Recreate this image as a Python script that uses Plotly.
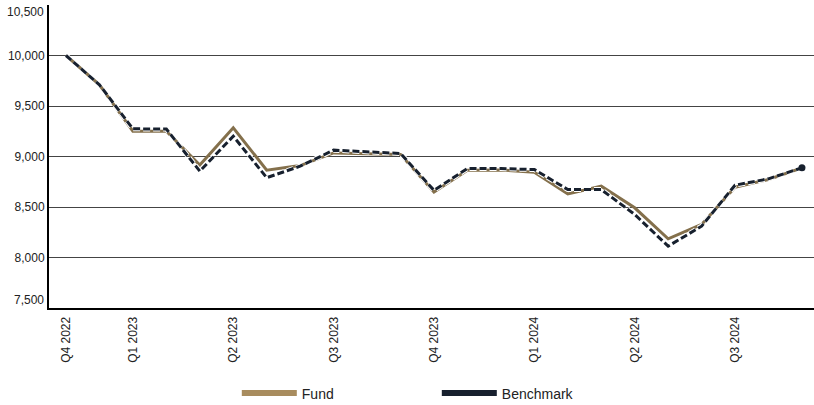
import plotly.graph_objects as go

x_index = list(range(23))
tick_positions = [0, 2, 5, 8, 11, 14, 17, 20]
tick_labels = ["Q4 2022", "Q1 2023", "Q2 2023", "Q3 2023", "Q4 2023",
               "Q1 2024", "Q2 2024", "Q3 2024"]

fund = [10000, 9710, 9250, 9250, 8915, 9285, 8865, 8910, 9035, 9030, 9020,
        8648, 8864, 8866, 8845, 8630, 8706, 8492, 8185, 8327, 8696, 8772, 8888]
benchmark = [10000, 9710, 9274, 9272, 8855, 9201, 8790, 8904, 9063, 9046, 9030,
             8665, 8881, 8880, 8871, 8673, 8673, 8426, 8112, 8310, 8716, 8779, 8888]

y_ticks = [7500, 8000, 8500, 9000, 9500, 10000, 10500]
y_tick_text = ["", "8,000", "8,500", "9,000", "9,500", "10,000", ""]
edge_ticks = [7500, 10500]
edge_text = ["7,500", "10,500"]
edge_shift = [8, -7]
grid_vals = [8000, 8500, 9000, 9500, 10000]

FUND_COLOR = "#84704c"
FUND_LEGEND = "#a88c5e"
BENCH_COLOR = "#17202e"

fig = go.Figure()

fig.add_trace(go.Scatter(
    x=x_index, y=fund, mode="lines", name="Fund",
    line=dict(color=FUND_COLOR, width=3), showlegend=False,
))
fig.add_trace(go.Scatter(
    x=x_index, y=benchmark, mode="lines", name="Benchmark_outline",
    line=dict(color="white", width=5, dash="7px,3px"), showlegend=False,
    hoverinfo="skip",
))
fig.add_trace(go.Scatter(
    x=x_index, y=benchmark, mode="lines", name="Benchmark",
    line=dict(color=BENCH_COLOR, width=3, dash="7px,3px"), showlegend=False,
))
fig.add_trace(go.Scatter(
    x=[x_index[-1]], y=[benchmark[-1]], mode="markers",
    marker=dict(color=BENCH_COLOR, size=7), showlegend=False, cliponaxis=False,
))
# legend entries
fig.add_trace(go.Scatter(
    x=[None], y=[None], mode="lines", name="Fund",
    line=dict(color=FUND_LEGEND, width=6),
))
fig.add_trace(go.Scatter(
    x=[None], y=[None], mode="lines", name="Benchmark",
    line=dict(color=BENCH_COLOR, width=6),
))
# grid overlay axis
fig.add_trace(go.Scatter(
    x=[None], y=[None], yaxis="y2", showlegend=False,
))

for val, txt, sh in zip(edge_ticks, edge_text, edge_shift):
    fig.add_annotation(
        x=0, xref="paper", y=val, yref="y", text=txt, showarrow=False,
        xanchor="right", yanchor="middle", xshift=-3, yshift=sh,
        font=dict(size=12, color="#222"),
    )

fig.update_layout(
    width=814, height=405,
    margin=dict(l=49, r=0, t=5, b=97),
    paper_bgcolor="white", plot_bgcolor="white",
    font=dict(family="Liberation Sans, Arial, sans-serif", color="#222", size=12),
    xaxis=dict(
        range=[-0.508, 22.36], automargin=False,
        tickmode="array", tickvals=tick_positions, ticktext=tick_labels,
        tickangle=-90, showgrid=False, zeroline=False,
        showline=True, linecolor="black", linewidth=2,
        ticks="", tickfont=dict(size=12), ticklabelstandoff=2,
    ),
    yaxis=dict(
        range=[7500, 10500], automargin=False,
        tickmode="array", tickvals=y_ticks, ticktext=y_tick_text,
        showgrid=False, zeroline=False,
        showline=True, linecolor="black", linewidth=2,
        ticks="", tickfont=dict(size=12),
    ),
    yaxis2=dict(
        range=[7500, 10500], overlaying="y", automargin=False,
        tickmode="array", tickvals=grid_vals,
        showgrid=True, gridcolor="#444", gridwidth=1,
        showticklabels=False, zeroline=False, showline=False,
        layer="below traces",
    ),
    legend=dict(
        orientation="h", x=0.2455, xanchor="left",
        y=0.068, yanchor="top", yref="container",
        entrywidth=130, entrywidthmode="pixels",
        font=dict(size=14, color="#222"), itemwidth=55,
        bgcolor="rgba(0,0,0,0)",
    ),
)

fig.write_html(
    "out.html",
    config={"displayModeBar": False},
    post_script="document.body.style.margin='0';document.body.style.padding='0';",
)
